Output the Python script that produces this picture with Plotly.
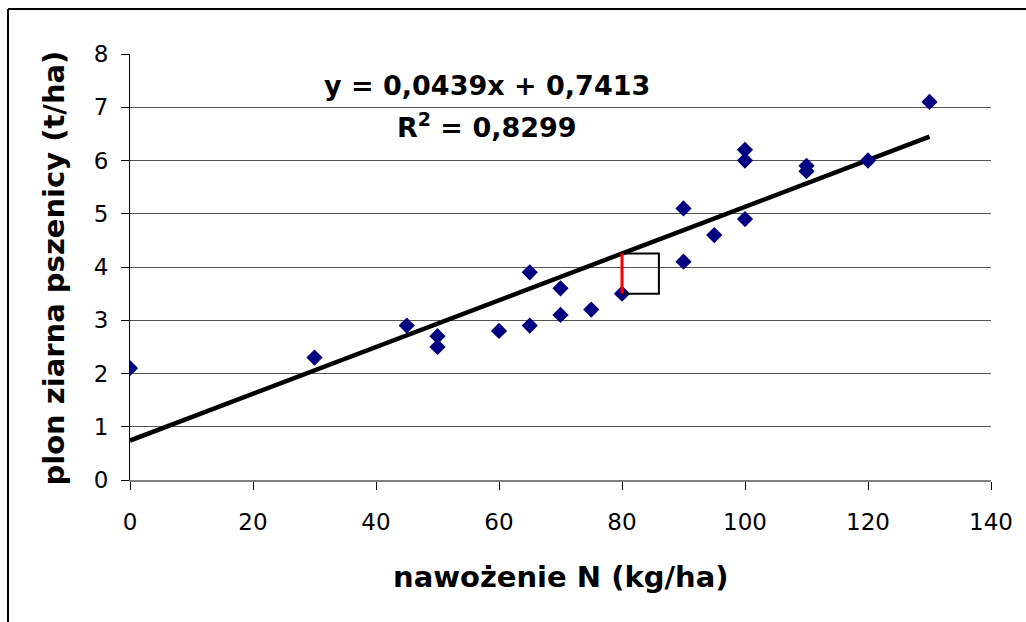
import plotly.graph_objects as go

# --- data ---
nitrogen = [0, 30, 45, 50, 50, 60, 65, 65, 70, 70, 75, 80, 90, 90, 95, 100, 100, 100, 110, 110, 120, 130]
yield_t = [2.1, 2.3, 2.9, 2.7, 2.5, 2.8, 3.9, 2.9, 3.6, 3.1, 3.2, 3.5, 5.1, 4.1, 4.6, 6.2, 6.0, 4.9, 5.9, 5.8, 6.0, 7.1]
slope = 0.0439
intercept = 0.7413
r2 = 0.8299
trend_x = [0, 130]
resid_x = 80
resid_y = 3.5
square_dx = 6
x_ticks = [0, 20, 40, 60, 80, 100, 120, 140]
y_ticks = [0, 1, 2, 3, 4, 5, 6, 7, 8]

FONT = "DejaVu Sans"

trend_y = [slope * x + intercept for x in trend_x]
pred = slope * resid_x + intercept

fig = go.Figure()
fig.add_trace(go.Scatter(
    x=trend_x, y=trend_y, mode="lines",
    line=dict(color="black", width=4.5), hoverinfo="skip"))
fig.add_trace(go.Scatter(
    x=nitrogen, y=yield_t, mode="markers",
    marker=dict(symbol="diamond", size=12.5, color="#000080", line=dict(width=0))))
# square drawn beside the residual
fig.add_trace(go.Scatter(
    x=[resid_x, resid_x + square_dx, resid_x + square_dx, resid_x],
    y=[pred, pred, resid_y, resid_y], mode="lines",
    line=dict(color="black", width=2), hoverinfo="skip"))
# residual (red)
fig.add_trace(go.Scatter(
    x=[resid_x, resid_x], y=[resid_y, pred], mode="lines",
    line=dict(color="red", width=3), hoverinfo="skip"))

fig.update_layout(
    width=1026, height=622,
    margin=dict(l=130, r=35, t=54, b=142),
    paper_bgcolor="white", plot_bgcolor="white",
    showlegend=False,
    font=dict(family=FONT, color="black"),
    xaxis=dict(range=[0, 140], tickvals=x_ticks, showgrid=False, zeroline=False,
               showline=True, linecolor="#808080", linewidth=2,
               ticks="outside", ticklen=8, tickcolor="black", tickwidth=1,
               tickfont=dict(family=FONT, size=23), ticklabelstandoff=12),
    yaxis=dict(range=[0, 8], tickvals=y_ticks, showgrid=True, gridcolor="#555555",
               gridwidth=1.3, zeroline=False,
               showline=True, linecolor="black", linewidth=1,
               ticks="outside", ticklen=8, tickcolor="black", tickwidth=1,
               tickfont=dict(family=FONT, size=23), ticklabelstandoff=8),
)

# axis titles
fig.add_annotation(text="<b>nawożenie N (kg/ha)</b>", xref="paper", yref="paper",
                   x=0.5, y=-0.228, xanchor="center", yanchor="middle",
                   showarrow=False, font=dict(family=FONT, size=29))
fig.add_annotation(text="<b>plon ziarna pszenicy (t/ha)</b>", xref="paper", yref="paper",
                   x=-0.088, y=0.497, xanchor="center", yanchor="middle", textangle=-90,
                   showarrow=False, font=dict(family=FONT, size=29))

# equation
eq_text = "<b>y = %sx + %s</b>" % (f"{slope:.4f}".replace(".", ","), f"{intercept:.4f}".replace(".", ","))
fig.add_annotation(text=eq_text, x=58.0, y=7.4, xanchor="center", yanchor="middle",
                   showarrow=False, font=dict(family=FONT, size=27))
fig.add_annotation(text="<b>R<sup>2</sup> = %s</b>" % f"{r2:.4f}".replace(".", ","),
                   x=58.0, y=6.65, xanchor="center", yanchor="middle",
                   showarrow=False, font=dict(family=FONT, size=27))

# outer frame (top and left edges)
px_x = lambda p: (p - 130) / 861
px_y = lambda p: (480 - p) / 426
fig.add_shape(type="line", xref="paper", yref="paper", x0=px_x(8), x1=px_x(1030),
              y0=px_y(9), y1=px_y(9), line=dict(color="black", width=2))
fig.add_shape(type="line", xref="paper", yref="paper", x0=px_x(8), x1=px_x(8),
              y0=px_y(9), y1=px_y(630), line=dict(color="black", width=2))

fig.write_html("out.html", config={"displayModeBar": False},
               post_script="document.body.style.margin='0';document.body.style.overflow='hidden';")
